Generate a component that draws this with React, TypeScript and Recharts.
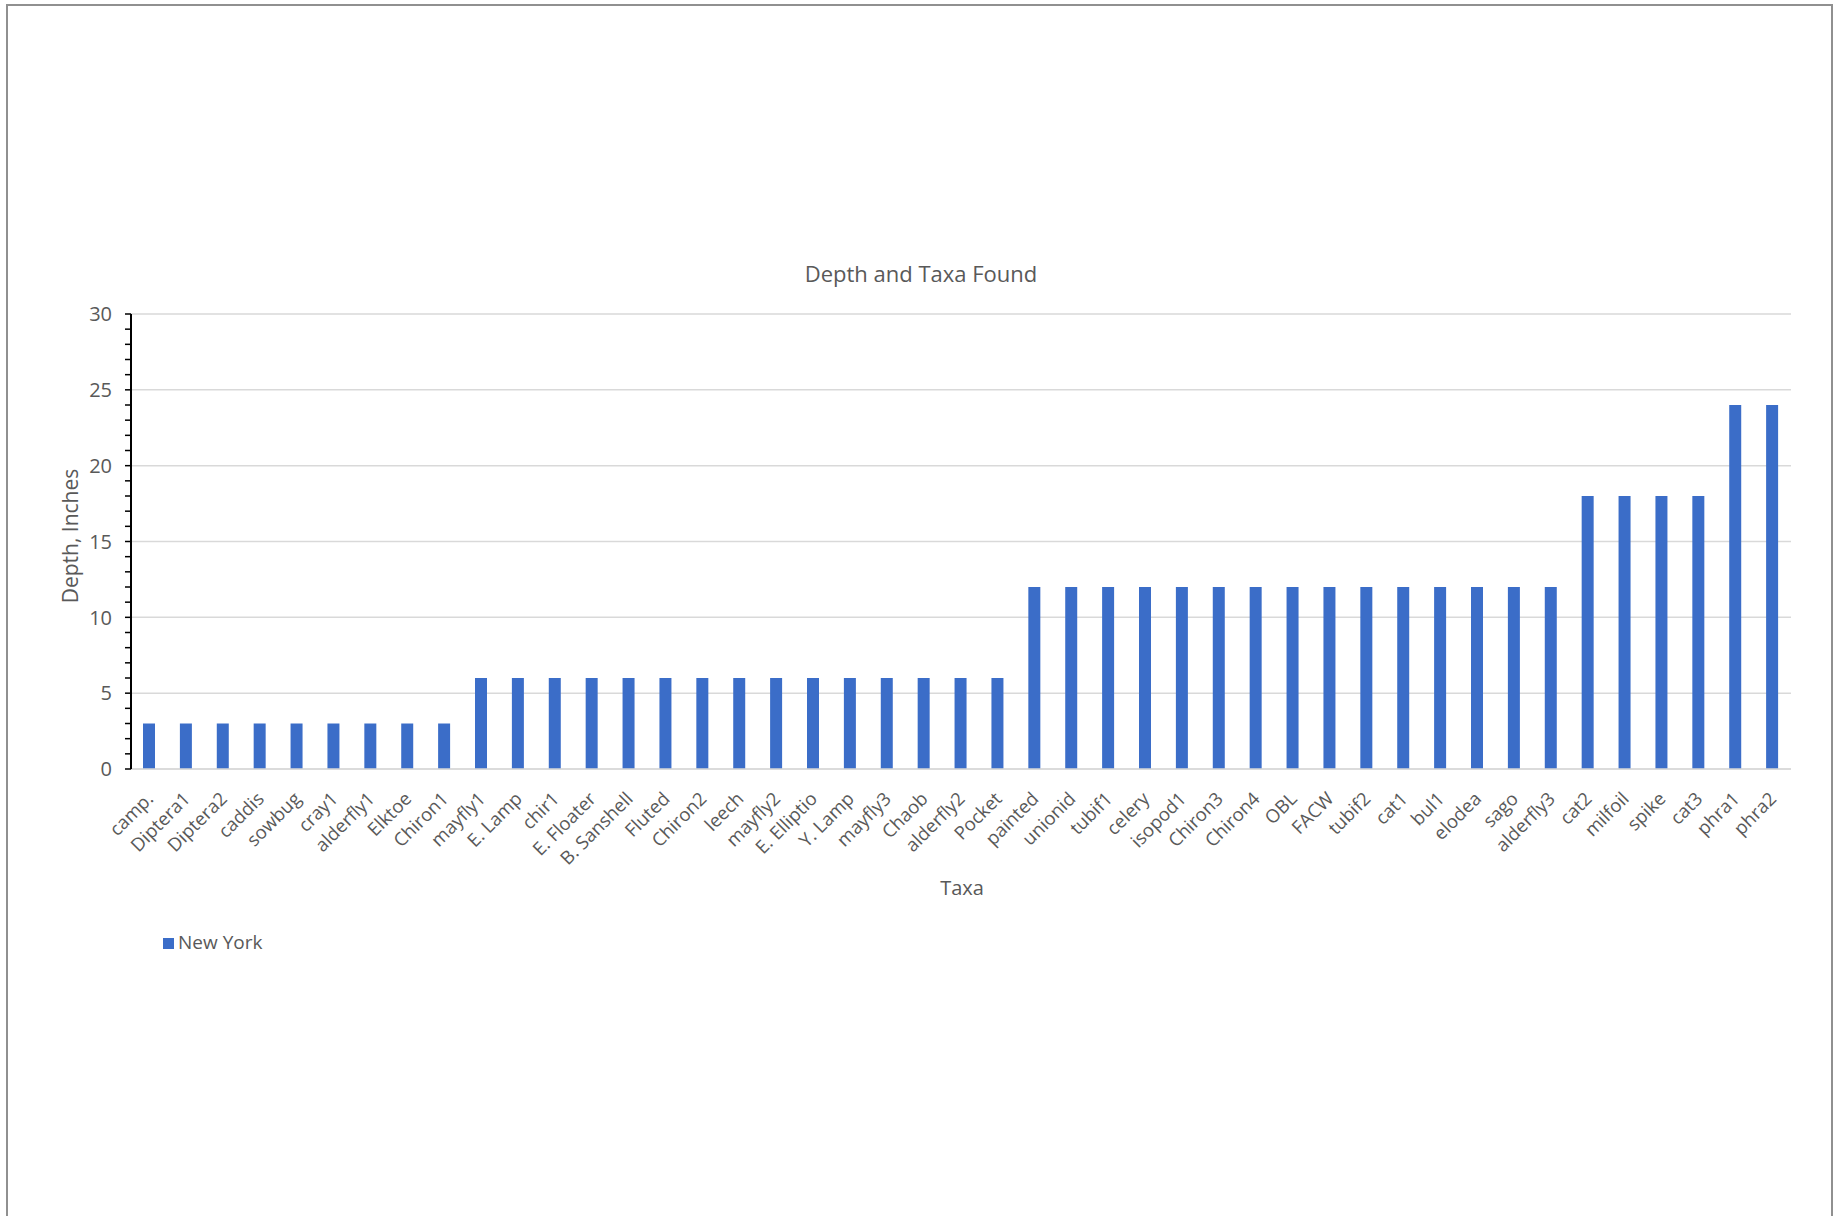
import React from "react";
import { BarChart, Bar, XAxis, YAxis, CartesianGrid, Legend } from "recharts";

const taxa: string[] = [
  "camp.", "Diptera1", "Diptera2", "caddis", "sowbug", "cray1", "alderfly1", "Elktoe", "Chiron1",
  "mayfly1", "E. Lamp", "chir1", "E. Floater", "B. Sanshell", "Fluted", "Chiron2", "leech", "mayfly2",
  "E. Elliptio", "Y. Lamp", "mayfly3", "Chaob", "alderfly2", "Pocket",
  "painted", "unionid", "tubif1", "celery", "isopod1", "Chiron3", "Chiron4", "OBL", "FACW", "tubif2",
  "cat1", "bul1", "elodea", "sago", "alderfly3",
  "cat2", "milfoil", "spike", "cat3",
  "phra1", "phra2",
];

const newYork: number[] = [
  3, 3, 3, 3, 3, 3, 3, 3, 3,
  6, 6, 6, 6, 6, 6, 6, 6, 6, 6, 6, 6, 6, 6, 6,
  12, 12, 12, 12, 12, 12, 12, 12, 12, 12, 12, 12, 12, 12, 12,
  18, 18, 18, 18,
  24, 24,
];

const majorTicks: number[] = [0, 5, 10, 15, 20, 25, 30];
const allTicks: number[] = [
  0, 1, 2, 3, 4, 5, 6, 7, 8, 9, 10, 11, 12, 13, 14, 15,
  16, 17, 18, 19, 20, 21, 22, 23, 24, 25, 26, 27, 28, 29, 30,
];

const data = taxa.map((t, i) => ({ taxon: t, "New York": newYork[i] }));

const FONT = "'Open Sans', 'Noto Sans', sans-serif";
const TXT = "#595959";
const BAR = "#3B6DC8";

const XTick = (props: any) => {
  const { x, y, payload } = props;
  return (
    <g transform={`translate(${x},${y})`}>
      <text
        x={5}
        y={29}
        transform="rotate(-45, 5, 29)"
        textAnchor="end"
        fill={TXT}
        fontSize={18.5}
        fontFamily={FONT}
      >
        {payload.value}
      </text>
    </g>
  );
};

const YTick = (props: any) => {
  const { x, y, payload } = props;
  if (!majorTicks.includes(payload.value)) return <g />;
  return (
    <text
      x={x}
      y={y}
      dy="0.36em"
      textAnchor="end"
      fill={TXT}
      fontSize={20}
      fontFamily={FONT}
    >
      {payload.value}
    </text>
  );
};

export default function App() {
  return (
    <div
      style={{
        position: "absolute",
        left: 0,
        top: 0,
        width: 1843,
        height: 1216,
        background: "#ffffff",
        overflow: "hidden",
        fontFamily: FONT,
      }}
    >
      <div
        style={{
          position: "absolute",
          left: 6,
          top: 4,
          width: 1827,
          height: 1240,
          border: "2px solid #909090",
          boxSizing: "border-box",
        }}
      />
      <BarChart
        width={1843}
        height={1216}
        data={data}
        margin={{ top: 314, right: 52, bottom: 417, left: 71 }}
      >
        <CartesianGrid
          vertical={false}
          stroke="#d9d9d9"
          strokeWidth={1.5}
          horizontalValues={majorTicks}
        />
        <XAxis
          dataKey="taxon"
          interval={0}
          height={30}
          tickSize={0}
          tickLine={false}
          axisLine={{ stroke: "#d9d9d9", strokeWidth: 1.5 }}
          tick={<XTick />}
        />
        <YAxis
          width={60}
          domain={[0, 30]}
          ticks={allTicks}
          interval={0}
          tickSize={6}
          tickMargin={13}
          axisLine={{ stroke: "#000000", strokeWidth: 2 }}
          tickLine={{ stroke: "#000000", strokeWidth: 1.5 }}
          tick={<YTick />}
        />
        <Legend
          layout="horizontal"
          verticalAlign="middle"
          align="center"
          iconType="square"
          iconSize={11}
          wrapperStyle={{ position: "absolute", left: 163, top: 929, width: "auto", fontSize: 19, fontFamily: FONT, textAlign: "left" }}
          formatter={(value: string) => <span style={{ color: TXT }}>{value}</span>}
        />
        <Bar dataKey="New York" fill={BAR} barSize={12} isAnimationActive={false} />
      </BarChart>
      <div
        style={{
          position: "absolute",
          left: 921,
          top: 273,
          transform: "translate(-50%, -50%)",
          fontSize: 22,
          color: TXT,
          whiteSpace: "nowrap",
        }}
      >
        Depth and Taxa Found
      </div>
      <div
        style={{
          position: "absolute",
          left: 962,
          top: 887,
          transform: "translate(-50%, -50%)",
          fontSize: 20,
          color: TXT,
          whiteSpace: "nowrap",
        }}
      >
        Taxa
      </div>
      <div
        style={{
          position: "absolute",
          left: 70,
          top: 536,
          transform: "translate(-50%, -50%) rotate(-90deg)",
          fontSize: 21,
          color: TXT,
          whiteSpace: "nowrap",
        }}
      >
        Depth, Inches
      </div>
    </div>
  );
}
